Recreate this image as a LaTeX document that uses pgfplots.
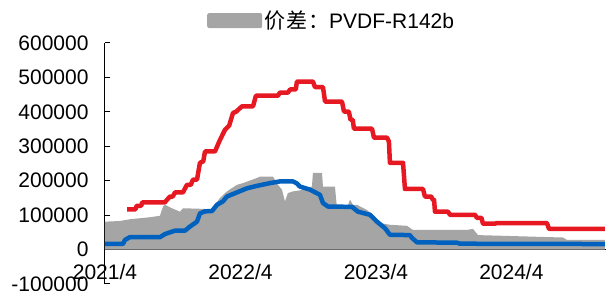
\documentclass[border=0pt]{standalone}
\usepackage{pgfplots}
\pgfplotsset{compat=1.18}
\usepackage{fontspec}
\setmainfont{Liberation Sans}
\newfontfamily\cjk{Noto Sans CJK SC}
\definecolor{cred}{RGB}{230,25,35}
\definecolor{cblue}{RGB}{0,98,190}
\definecolor{cgray}{RGB}{165,165,165}
\begin{document}
\begin{tikzpicture}
\begin{axis}[name=ax, scale only axis, width=501bp, height=241bp,
  xmin=0, xmax=44.38, ymin=-100000, ymax=600000,
  axis x line*=middle, axis y line*=left,
  hide obscured x ticks=false, hide obscured y ticks=false,
  scaled y ticks=false, scaled x ticks=false,
  axis line style={black, line width=1bp},
  tick style={black, line width=1bp}, major tick length=5bp,
  tick align=inside,
  xtick={0,12,24,36}, xticklabels={2021/4,2022/4,2023/4,2024/4},
  ytick={-100000,0,100000,200000,300000,400000,500000,600000},
  yticklabels={-100000,0,100000,200000,300000,400000,500000,600000},
  font=\fontsize{21bp}{25bp}\selectfont,
  xticklabel style={yshift=-11bp},
  yticklabel style={xshift=-13bp},
  legend style={at={(0.2036,1.093)}, anchor=west, draw=none, fill=none, inner sep=0pt,
    font=\fontsize{21bp}{25bp}\selectfont},
  legend cell align=left,
]
\addplot[draw=none, fill=cgray,
  legend image code/.code={\fill[cgray, rounded corners=2bp] (0bp,-7.5bp) rectangle (55bp,7.5bp);}]
  coordinates {(0,81000)(1.33,83000)(2.2,88000)(3.99,94000)(4.87,98000)(5.14,125000)(5.31,130000)(5.93,120000)(6.64,110000)(6.91,120000)(8.86,118000)(9.3,115000)(9.74,130000)(10.19,150000)(10.8,169000)(11.69,188000)(12.22,193000)(13.46,208000)(13.73,212000)(14.88,212000)(15.32,188000)(15.68,174000)(15.94,140000)(16.2,164000)(16.65,169000)(17.27,172000)(18.33,183000)(18.42,223000)(19.22,223000)(19.31,183000)(20.37,183000)(20.55,120000)(21.43,120000)(21.7,145000)(21.97,130000)(22.32,130000)(23.2,115000)(23.91,96000)(24.36,77000)(25.24,72000)(26.75,69000)(27.28,57000)(32.06,57000)(32.6,60000)(33.04,42000)(40.57,35000)(40.92,28000)(44.29,28000)} \closedcycle;
\addlegendentry{{\cjk 价\kern1bp 差\kern1bp ：}PVDF-R142b}
\addplot[cred, line width=4.5bp, line join=round, forget plot]
  coordinates {(1.95,117000)(2.70,117000)(2.80,127000)(3.2,127000)(3.3,137000)(5.3,137000)(5.5,145000)(5.76,154000)(6.0,154000)(6.2,166000)(6.9,166000)(7.26,188000)(7.6,188000)(7.79,203000)(8.15,203000)(8.41,252000)(8.7,256000)(8.86,285000)(9.74,285000)(10.19,319000)(10.63,348000)(11.0,360000)(11.34,397000)(11.6,400000)(12.13,416000)(13.11,416000)(13.37,447000)(15.32,447000)(15.5,456000)(16.2,456000)(16.4,465000)(16.9,465000)(17.0,488000)(18.42,488000)(18.6,472000)(19.31,472000)(19.49,430000)(20.99,430000)(21.17,401000)(21.6,401000)(21.75,377000)(21.95,377000)(22.05,351000)(23.65,351000)(23.83,325000)(24.98,325000)(25.15,314000)(25.24,252000)(26.4,252000)(26.57,176000)(28.17,176000)(28.34,154000)(28.9,154000)(29.05,144000)(29.15,144000)(29.23,110000)(30.38,110000)(30.56,101000)(32.77,101000)(32.95,92000)(33.35,92000)(33.48,75000)(34.5,75000)(34.72,77000)(39.15,77000)(39.33,60000)(44.29,60000)};
\addplot[cblue, line width=4.5bp, line join=round, forget plot]
  coordinates {(0,16600)(1.59,16600)(1.77,28000)(2.2,36000)(4.87,36000)(5.31,45000)(6.2,55000)(7.09,55000)(7.53,67000)(8.15,81000)(8.41,105000)(8.86,111000)(9.48,112000)(9.92,130000)(10.45,140000)(10.8,154000)(11.69,166000)(12.58,178000)(13.46,185000)(14.61,193000)(15.5,198000)(16.65,198000)(17.0,192000)(17.27,183000)(18.16,174000)(19.04,159000)(19.31,135000)(19.75,125000)(21.88,124000)(22.41,110000)(23.47,101000)(24.09,81000)(24.8,62000)(25.24,43000)(27.0,42000)(27.19,34000)(27.64,21000)(31.18,20000)(31.44,17000)(44.29,16000)};
\end{axis}
\pgfresetboundingbox
\path ([shift={(-105bp,-7bp)}]ax.south west) rectangle ([shift={(0bp,43bp)}]ax.north east);
\end{tikzpicture}
\end{document}
